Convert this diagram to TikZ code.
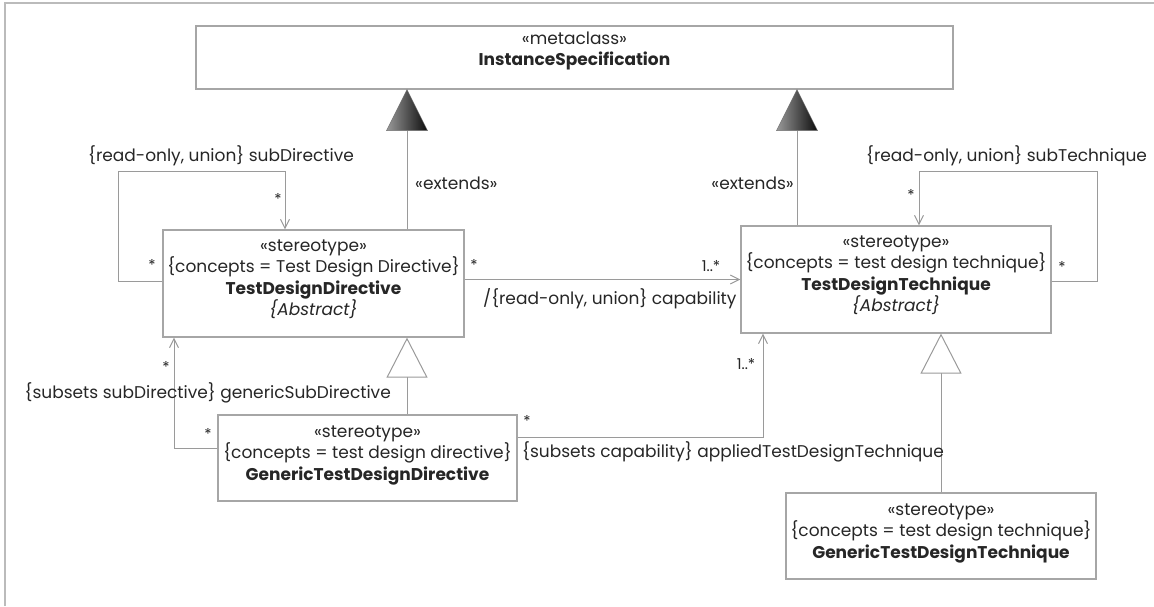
\documentclass[tikz,border=0pt]{standalone}
\usepackage{fontspec}
\setmainfont{Poppins}
\usetikzlibrary{arrows.meta}
\definecolor{framegray}{HTML}{BBBBBB}
\definecolor{boxgray}{HTML}{A6A6A6}
\definecolor{linegray}{HTML}{9A9A9A}
\definecolor{inkcol}{HTML}{262626}

\begin{document}
\begin{tikzpicture}[x=1pt,y=-1pt,
  umlbox/.style={draw=boxgray, line width=1.2pt, fill=white, inner sep=0pt, rectangle},
  boxtext/.style={inner sep=0pt, align=center, text=inkcol, font=\fontsize{17}{21.5}\selectfont, anchor=north},
  lbl/.style={inner sep=0pt, text=inkcol, font=\fontsize{17}{20}\selectfont},
  mult/.style={inner sep=0pt, text=inkcol, font=\fontsize{15}{17}\selectfont},
  assoc/.style={draw=linegray, line width=1pt, -{Straight Barb[length=9pt,width=9pt]}},
  gen/.style={draw=linegray, line width=1pt, -{Triangle[open,length=40pt,width=41pt,fill=white]}},
  extline/.style={draw=linegray, line width=1pt},
  extri/.style={left color=black!40, right color=black!95, draw=black!55, line width=0.4pt}
]
\useasboundingbox (0,0) rectangle (1154,606);

% diagram frame (top and left edges)
\draw[framegray, line width=2pt] (5,606) -- (5,3) -- (1154,3);

% classes
\node[umlbox, minimum width=757pt, minimum height=63pt] (is) at (574.5,57.5) {};
\node[boxtext] (istxt) at ([yshift=-6pt]is.north) {«metaclass»\\\textbf{InstanceSpecification}};

\node[umlbox, minimum width=301pt, minimum height=107pt] (tdd) at (313.5,283.5) {};
\node[boxtext] (tddtxt) at ([yshift=-10pt]tdd.north)
  {«stereotype»\\\{concepts = Test Design Directive\}\\\textbf{TestDesignDirective}\\\textit{\{Abstract\}}};

\node[umlbox, minimum width=310pt, minimum height=107pt] (tdt) at (896,279.5) {};
\node[boxtext] (tdttxt) at ([yshift=-10pt]tdt.north)
  {«stereotype»\\\{concepts = test design technique\}\\\textbf{TestDesignTechnique}\\\textit{\{Abstract\}}};

\node[umlbox, minimum width=299pt, minimum height=86pt] (gtdd) at (367.5,458) {};
\node[boxtext] (gtddtxt) at ([yshift=-11pt]gtdd.north)
  {«stereotype»\\\{concepts = test design directive\}\\\textbf{GenericTestDesignDirective}};

\node[umlbox, minimum width=310pt, minimum height=86pt] (gtdt) at (941,536) {};
\node[boxtext] (gtdttxt) at ([yshift=-11pt]gtdt.north)
  {«stereotype»\\\{concepts = test design technique\}\\\textbf{GenericTestDesignTechnique}};

% extension arrows to the metaclass
\coordinate (exl) at ([xshift=-167.5pt]is.south);
\coordinate (exr) at ([xshift=222.5pt]is.south);
\draw[extline] (exl |- tdd.north) -- ([yshift=-41pt]exl);
\shade[extri] (exl) -- ++(-20.5,41) -- ++(41,0) -- cycle;
\draw[extline] (exr |- tdt.north) -- ([yshift=-41pt]exr);
\shade[extri] (exr) -- ++(-20.5,41) -- ++(41,0) -- cycle;
\node[lbl, anchor=west] (lext1) at (415,183) {«extends»};
\node[lbl, anchor=east] (lext2) at (794,183) {«extends»};

% generalizations
\draw[gen] (gtdd.north -| exl) -- (tdd.south -| exl);
\draw[gen] (gtdt.north) -- (tdt.south -| gtdt.north);

% self associations
\coordinate (loopA) at (118,171);
\coordinate (loopB) at (1097,171);
\draw[assoc] ([yshift=2.5pt]tdd.west) -| (loopA) -| ([xshift=-28.5pt]tdd.north);
\draw[assoc] ([yshift=-1.5pt]tdt.east) -| (loopB) -| ([xshift=23pt]tdt.north);
\node[lbl, anchor=west] (lsubdir) at (88,156) {\{read-only, union\} subDirective};
\node[lbl, anchor=west] (lsubtech) at (866,156) {\{read-only, union\} subTechnique};
\node[mult] (m1) at (278,199) {*};
\node[mult] (m2) at (152,265) {*};
\node[mult] (m3) at (911,195) {*};
\node[mult] (m4) at (1062,267) {*};

% capability
\draw[assoc] (tdd.east |- tdt.west) -- (tdt.west);
\node[lbl, anchor=west] (lcap) at (483,299) {/\{read-only, union\} capability};
\node[mult] (m5) at (474,265) {*};
\node[mult] (m6) at (711,266) {1..*};

% generic sub directive
\draw[assoc] ([yshift=10pt]gtdd.west) -| ([xshift=-139.5pt]tdd.south);
\node[lbl, anchor=east] (lgsd) at (391,393) {\{subsets subDirective\} genericSubDirective};
\node[mult] (m7) at (166,367) {*};
\node[mult] (m8) at (208,434) {*};

% applied technique
\draw[assoc] ([yshift=21pt]gtdd.east) -| ([xshift=-133pt]tdt.south);
\node[lbl, anchor=west] (lapp) at (522,452) {\{subsets capability\} appliedTestDesignTechnique};
\node[mult] (m9) at (527,421) {*};
\node[mult] (m10) at (746,364) {1..*};
\end{tikzpicture}
\end{document}
